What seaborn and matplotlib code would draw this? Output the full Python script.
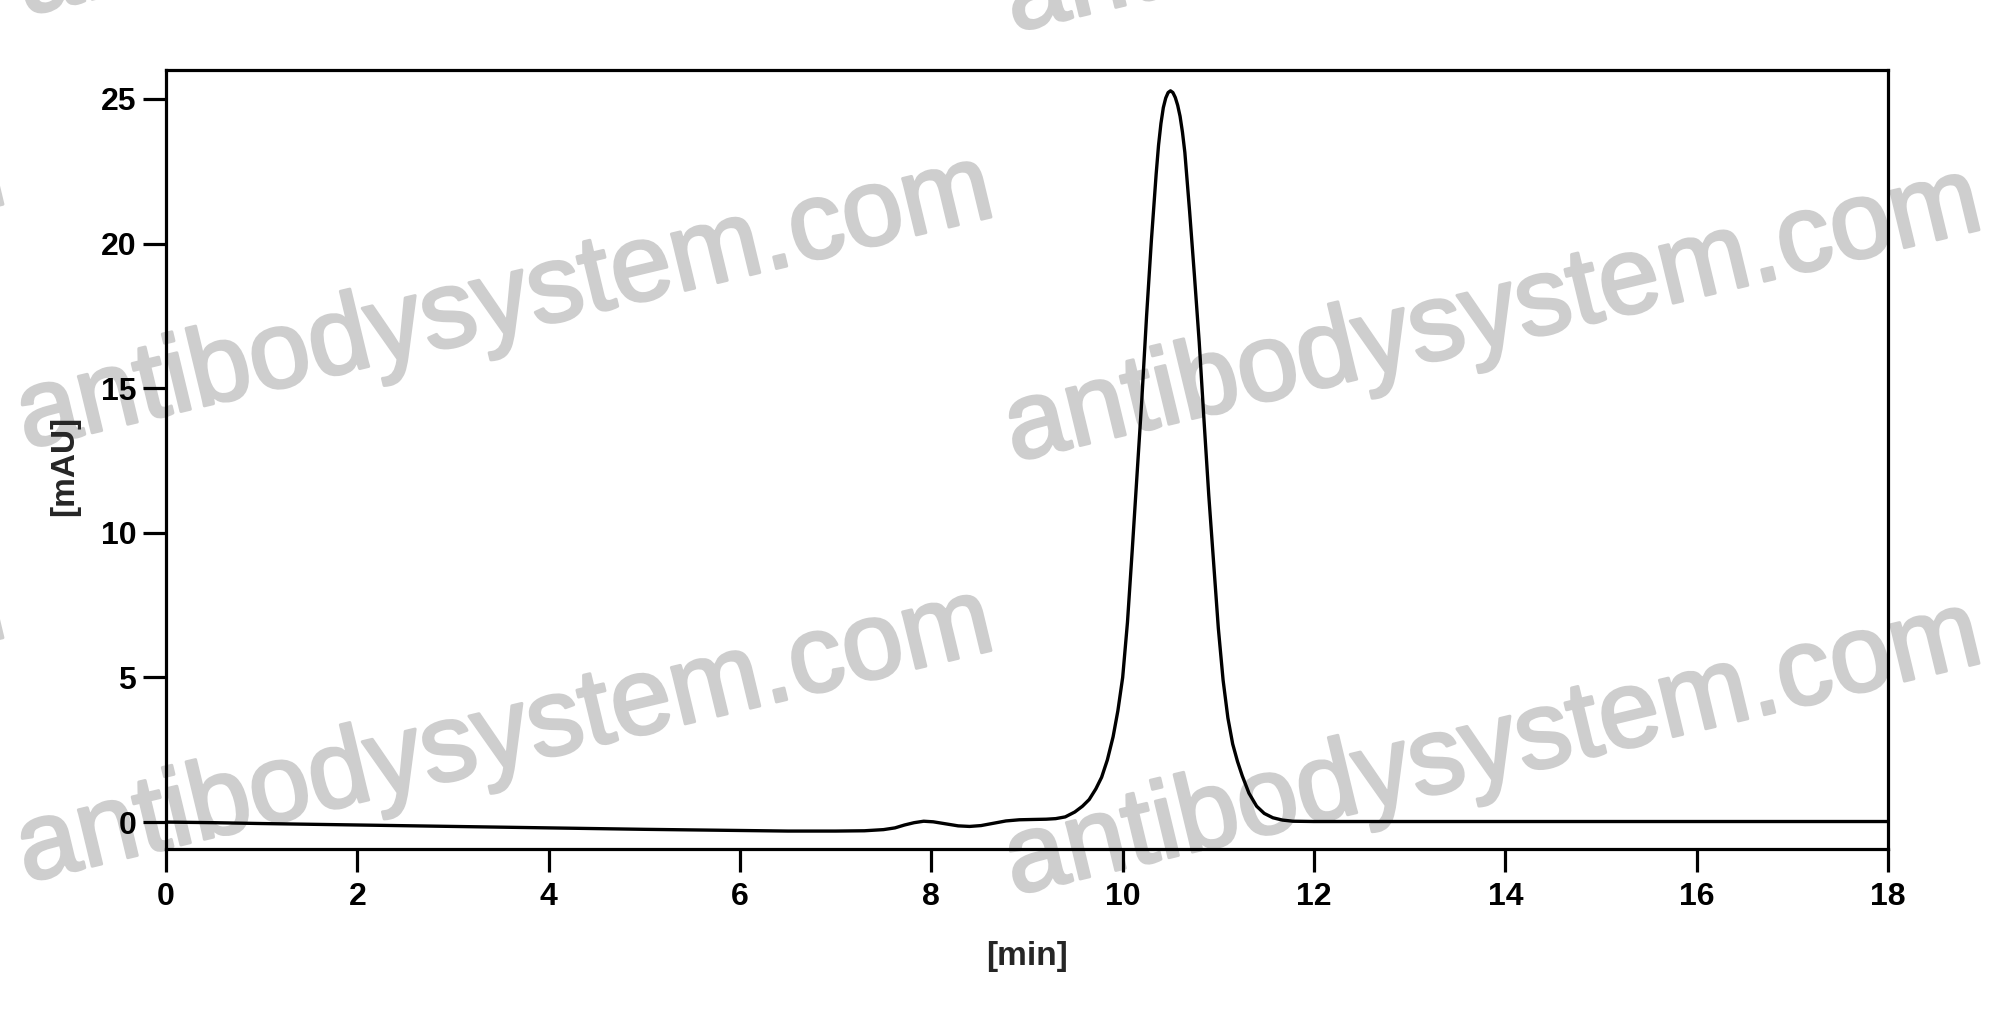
import matplotlib
matplotlib.use("Agg")
import matplotlib.pyplot as plt
import matplotlib.patheffects as pe
import seaborn as sns
import pandas as pd

# ---- data ----
time_min = [0.0, 0.5, 1.0, 1.5, 2.0, 3.0, 4.0, 5.0, 6.0, 6.5, 7.0, 7.3, 7.5, 7.62,
            7.72, 7.82, 7.92, 8.02, 8.15, 8.28, 8.40, 8.52, 8.65, 8.78, 8.92, 9.05,
            9.20, 9.30, 9.40, 9.50, 9.58, 9.65, 9.72, 9.78, 9.84, 9.90, 9.95, 10.00,
            10.05, 10.10, 10.15, 10.20, 10.25, 10.30, 10.35, 10.375, 10.40, 10.425,
            10.45, 10.475, 10.50, 10.525, 10.55, 10.575, 10.60, 10.625, 10.65, 10.70,
            10.75, 10.80, 10.85, 10.90, 10.95, 11.00, 11.05, 11.10, 11.15, 11.20,
            11.25, 11.32, 11.40, 11.48, 11.57, 11.67, 11.78, 12.0, 14.0, 16.0, 18.0]
signal_mau = [0.00, -0.02, -0.05, -0.075, -0.10, -0.15, -0.20, -0.25, -0.29, -0.31,
              -0.31, -0.30, -0.26, -0.20, -0.10, -0.02, 0.03, 0.01, -0.06, -0.13,
              -0.15, -0.12, -0.04, 0.04, 0.08, 0.09, 0.10, 0.12, 0.18, 0.35, 0.55,
              0.78, 1.15, 1.55, 2.15, 2.95, 3.85, 5.0, 6.9, 9.4, 12.0, 14.6, 17.5,
              20.1, 22.4, 23.4, 24.15, 24.7, 25.03, 25.22, 25.28, 25.22, 25.05, 24.78,
              24.4, 23.85, 23.15, 21.1, 18.9, 16.6, 13.9, 11.3, 9.0, 6.7, 4.9, 3.6,
              2.7, 2.1, 1.6, 1.0, 0.55, 0.30, 0.15, 0.07, 0.03, 0.02, 0.02, 0.02, 0.02]
x_ticks = [0, 2, 4, 6, 8, 10, 12, 14, 16, 18]
y_ticks = [0, 5, 10, 15, 20, 25]
x_label = "[min]"
y_label = "[mAU]"
watermark = "antibodysystem.com"

df = pd.DataFrame({"t": time_min, "mau": signal_mau})

sns.set_style("ticks")
plt.rcParams["font.family"] = ["Liberation Sans", "DejaVu Sans"]

W, H = 1999, 1019
fig = plt.figure(figsize=(W / 100, H / 100), dpi=100)
fig.patch.set_facecolor("white")

# watermark tiles (figure pixel coords, top-left origin)
s = 1999 / 1568
wm_color = "#cecece"
wm_starts = [(-755, 342), (-755, 682), (20, 12), (20, 352), (20, 692), (20, 1032),
             (795, 25), (795, 362), (795, 702), (795, 1042)]
for (px, py) in wm_starts:
    fig.text(px * s / W, 1 - py * s / H, watermark, fontsize=79,
             color=wm_color, rotation=13.5, rotation_mode="anchor",
             ha="left", va="baseline", zorder=-5,
             family=["Liberation Sans", "DejaVu Sans"],
             path_effects=[pe.withStroke(linewidth=2.2, foreground=wm_color)])

ax = fig.add_axes([166 / W, (H - 849) / H, (1888 - 166) / W, (849 - 70) / H])
ax.set_facecolor("none")

sns.lineplot(data=df, x="t", y="mau", ax=ax, color="black", linewidth=2.4,
             sort=False, estimator=None)

ax.set_xlim(0, 18)
ax.set_ylim(-0.93, 26.0)
ax.set_xticks(x_ticks)
ax.set_yticks(y_ticks)
ax.set_xticklabels([str(v) for v in x_ticks])
ax.set_yticklabels([str(v) for v in y_ticks])

for sp in ax.spines.values():
    sp.set_visible(True)
    sp.set_linewidth(2.3)
    sp.set_color("black")

ax.tick_params(axis="both", direction="out", length=16.5, width=2.3,
               colors="black", labelsize=23)
ax.tick_params(axis="x", pad=7)
ax.tick_params(axis="y", pad=5)
for lab in ax.get_xticklabels() + ax.get_yticklabels():
    lab.set_fontweight("bold")

ax.set_xlabel(x_label, fontsize=24, fontweight="bold")
ax.set_ylabel(y_label, fontsize=24, fontweight="bold")
ax.xaxis.set_label_coords(0.5, -0.118)
ax.yaxis.set_label_coords(-0.050, 0.492)

fig.savefig("out.png", dpi=100, facecolor="white")
